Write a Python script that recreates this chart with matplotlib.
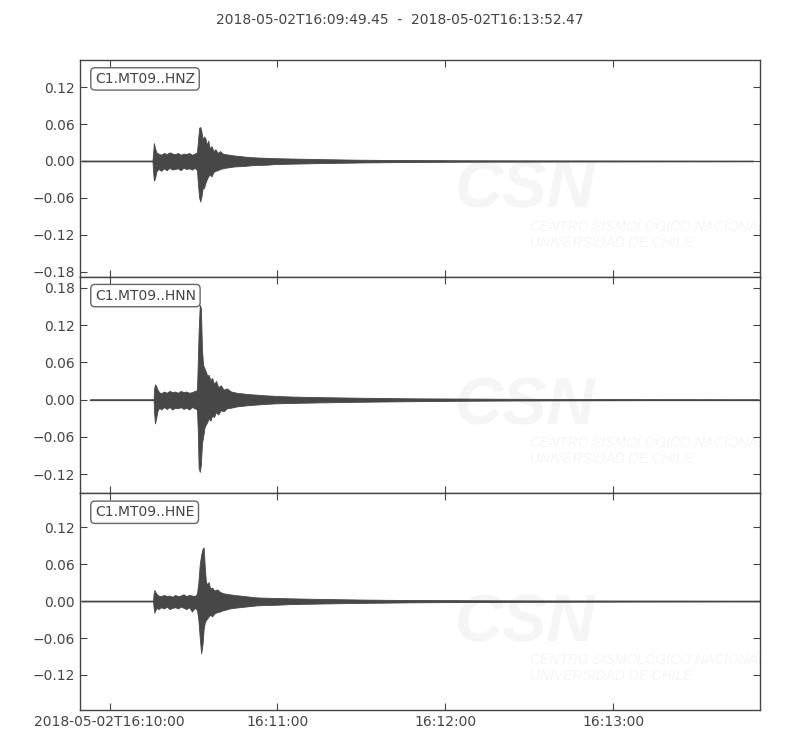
import datetime
import matplotlib
matplotlib.use("Agg")
import matplotlib.pyplot as plt
import matplotlib.dates as mdates
from matplotlib.ticker import MultipleLocator, FuncFormatter

start = datetime.datetime(2018, 5, 2, 16, 9, 49, 450000)
duration = 243.02  # seconds
title = "2018-05-02T16:09:49.45  -  2018-05-02T16:13:52.47"
channels = ["C1.MT09..HNZ", "C1.MT09..HNN", "C1.MT09..HNE"]

# envelope of each trace (seconds after start, upper, lower)
t_z = [0.7, 25.9, 26.1, 26.4, 26.8, 27.3, 28, 29, 30, 31,
       32, 33, 34, 35, 36, 37, 38, 39, 40, 41,
       41.8, 42.2, 42.6, 43.0, 43.4, 43.8, 44.3, 44.8, 45.3, 45.8,
       46.4, 47, 47.7, 48.4, 49.2, 50, 51, 52, 53.5, 55,
       57, 59, 61, 64, 67, 70, 75, 80, 86, 93,
       100, 110, 120, 132, 145, 160, 180, 200, 220, 240.5]
up_z = [0.0006, 0.0006, 0.012, 0.029, 0.021, 0.014, 0.012, 0.010, 0.013, 0.011,
        0.014, 0.012, 0.011, 0.013, 0.010, 0.012, 0.011, 0.013, 0.010, 0.012,
        0.014, 0.035, 0.054, 0.055, 0.048, 0.034, 0.040, 0.037, 0.026, 0.033,
        0.020, 0.024, 0.016, 0.019, 0.013, 0.016, 0.012, 0.011, 0.010, 0.009,
        0.008, 0.007, 0.0062, 0.0055, 0.005, 0.0045, 0.004, 0.0035, 0.003, 0.0025,
        0.002, 0.0016, 0.0014, 0.0012, 0.001, 0.0009, 0.0008, 0.0007, 0.0006, 0.0005]
lo_z = [-0.0006, -0.0006, -0.015, -0.032, -0.028, -0.017, -0.013, -0.016, -0.012, -0.015,
        -0.011, -0.014, -0.013, -0.012, -0.015, -0.011, -0.013, -0.012, -0.014, -0.011,
        -0.015, -0.040, -0.060, -0.066, -0.058, -0.045, -0.044, -0.036, -0.030, -0.025,
        -0.022, -0.025, -0.018, -0.016, -0.015, -0.013, -0.012, -0.011, -0.010, -0.009,
        -0.0085, -0.008, -0.007, -0.0065, -0.006, -0.005, -0.0045, -0.004, -0.0035, -0.003,
        -0.0025, -0.002, -0.0016, -0.0013, -0.0011, -0.001, -0.0008, -0.0007, -0.0006, -0.0005]

t_n = [3.6, 26.3, 26.5, 26.8, 27.2, 27.7, 28.3, 29, 30, 31,
       32, 33, 34, 35, 36, 37, 38, 39, 40, 41,
       41.8, 42.1, 42.4, 42.8, 43.2, 43.6, 44.0, 44.5, 45.0, 45.5,
       46.0, 46.6, 47.2, 47.9, 48.6, 49.4, 50.3, 51.3, 52.5, 54,
       56, 58, 60, 63, 66, 70, 75, 80, 86, 93,
       100, 110, 120, 132, 145, 160, 180, 200, 220, 242.5]
up_n = [0.0006, 0.0006, 0.018, 0.0245, 0.022, 0.016, 0.012, 0.010, 0.013, 0.011,
        0.014, 0.012, 0.013, 0.011, 0.014, 0.012, 0.013, 0.011, 0.012, 0.014,
        0.015, 0.060, 0.110, 0.1525, 0.148, 0.080, 0.056, 0.050, 0.045, 0.038,
        0.040, 0.031, 0.035, 0.025, 0.030, 0.020, 0.023, 0.016, 0.018, 0.013,
        0.011, 0.010, 0.009, 0.008, 0.007, 0.006, 0.005, 0.0045, 0.004, 0.0035,
        0.003, 0.0025, 0.002, 0.0018, 0.0015, 0.0012, 0.001, 0.0008, 0.0007, 0.0006]
lo_n = [-0.0006, -0.0006, -0.022, -0.0385, -0.030, -0.018, -0.013, -0.016, -0.012, -0.015,
        -0.012, -0.016, -0.013, -0.014, -0.012, -0.015, -0.013, -0.016, -0.012, -0.014,
        -0.016, -0.050, -0.110, -0.1165, -0.105, -0.070, -0.060, -0.045, -0.040, -0.036,
        -0.030, -0.034, -0.026, -0.028, -0.020, -0.024, -0.017, -0.019, -0.014, -0.013,
        -0.011, -0.010, -0.009, -0.008, -0.007, -0.006, -0.0055, -0.005, -0.0045, -0.004,
        -0.0035, -0.003, -0.0025, -0.002, -0.0016, -0.0013, -0.001, -0.0008, -0.0007, -0.0006]

t_e = [0.7, 26.1, 26.3, 26.6, 27.0, 27.5, 28, 29, 30, 31,
       32, 33, 34, 35, 36, 37, 38, 39, 40, 41,
       41.8, 42.3, 42.8, 43.3, 43.8, 44.2, 44.6, 45.0, 45.5, 46.0,
       46.5, 47.2, 48, 49, 50, 51, 52, 53.5, 55, 57,
       59, 61, 63, 66, 70, 75, 80, 86, 93, 100,
       110, 120, 132, 145, 160, 180, 200, 220, 235, 243.0]
up_e = [0.0006, 0.0006, 0.012, 0.018, 0.014, 0.011, 0.009, 0.008, 0.010, 0.008,
        0.009, 0.007, 0.010, 0.008, 0.009, 0.011, 0.008, 0.010, 0.009, 0.008,
        0.012, 0.030, 0.060, 0.075, 0.085, 0.087, 0.055, 0.031, 0.027, 0.031,
        0.020, 0.022, 0.017, 0.019, 0.015, 0.013, 0.012, 0.011, 0.010, 0.009,
        0.008, 0.007, 0.006, 0.0055, 0.005, 0.0045, 0.004, 0.0035, 0.003, 0.0025,
        0.002, 0.0017, 0.0015, 0.0012, 0.001, 0.0009, 0.0008, 0.0007, 0.0006, 0.0006]
lo_e = [-0.0006, -0.0006, -0.010, -0.019, -0.014, -0.011, -0.013, -0.010, -0.012, -0.009,
        -0.013, -0.011, -0.010, -0.012, -0.009, -0.011, -0.013, -0.010, -0.017, -0.011,
        -0.014, -0.030, -0.060, -0.085, -0.070, -0.045, -0.035, -0.031, -0.028, -0.025,
        -0.022, -0.025, -0.020, -0.018, -0.017, -0.015, -0.014, -0.012, -0.011, -0.010,
        -0.009, -0.008, -0.007, -0.0065, -0.006, -0.005, -0.0045, -0.004, -0.0035, -0.003,
        -0.0025, -0.002, -0.0017, -0.0014, -0.0012, -0.001, -0.0008, -0.0007, -0.0006, -0.0006]

ylims = [(-0.188, 0.164), (-0.151, 0.198), (-0.177, 0.175)]

traces = [(t_z, up_z, lo_z), (t_n, up_n, lo_n), (t_e, up_e, lo_e)]

fg = "#444444"
trace_color = "#474747"
plt.rcParams["font.family"] = ["DejaVu Sans"]
plt.rcParams["font.size"] = 10
plt.rcParams["text.color"] = fg
plt.rcParams["axes.edgecolor"] = fg
plt.rcParams["xtick.color"] = fg
plt.rcParams["ytick.color"] = fg

t0 = mdates.date2num(start)


def to_num(secs):
    return [t0 + s / 86400.0 for s in secs]


fig, axes = plt.subplots(3, 1, sharex=True, figsize=(8, 7.5), dpi=100)
fig.subplots_adjust(left=0.1, right=0.95, top=0.92, bottom=0.0533, hspace=0)

for ax, name, (tt, up, lo), yl in zip(axes, channels, traces, ylims):
    x = to_num(tt)
    ax.fill_between(x, lo, up, color=trace_color, lw=0.6, zorder=3)
    ax.plot(x, [0] * len(x), color=trace_color, lw=0.9, zorder=3)
    ax.set_ylim(*yl)
    ax.yaxis.set_major_locator(MultipleLocator(0.06))
    ax.yaxis.set_major_formatter(FuncFormatter(lambda v, p: ("%.2f" % v).replace("-", "\u2212")))
    ax.tick_params(direction="in", top=True, right=True, length=5, width=0.8)
    for sp in ax.spines.values():
        sp.set_linewidth(1.0)
    ax.text(0.022, 0.945, name, transform=ax.transAxes, va="top", ha="left",
            bbox=dict(boxstyle="round,pad=0.3", fc="white", ec="#666666", lw=1.0), zorder=5)
    # faint CSN watermark
    wm = "#f5f5f5"
    ax.text(0.551, 0.318, "CSN", transform=ax.transAxes, fontsize=48, fontweight="bold",
            style="italic", color=wm, zorder=0, family=["Liberation Sans", "DejaVu Sans"])
    ax.text(0.662, 0.212, "CENTRO SISMOL\u00d3GICO NACIONAL", transform=ax.transAxes,
            fontsize=10, style="italic", color=wm, zorder=0,
            family=["Liberation Sans", "DejaVu Sans"])
    ax.text(0.662, 0.138, "UNIVERSIDAD DE CHILE", transform=ax.transAxes,
            fontsize=10, style="italic", color=wm, zorder=0,
            family=["Liberation Sans", "DejaVu Sans"])

axes[-1].set_xlim(t0, t0 + duration / 86400.0)
axes[-1].xaxis.set_major_locator(mdates.MinuteLocator())


def fmt_time(v, pos):
    d = mdates.num2date(v)
    if pos == 0:
        return d.strftime("%Y-%m-%dT%H:%M:%S")
    return d.strftime("%H:%M:%S")


axes[-1].xaxis.set_major_formatter(FuncFormatter(fmt_time))
for ax in axes[:-1]:
    ax.tick_params(labelbottom=False)

fig.text(0.5, 1 - 20 / 750, title, ha="center", va="center", fontsize=10)

fig.savefig("out.png", dpi=100, facecolor="white")
